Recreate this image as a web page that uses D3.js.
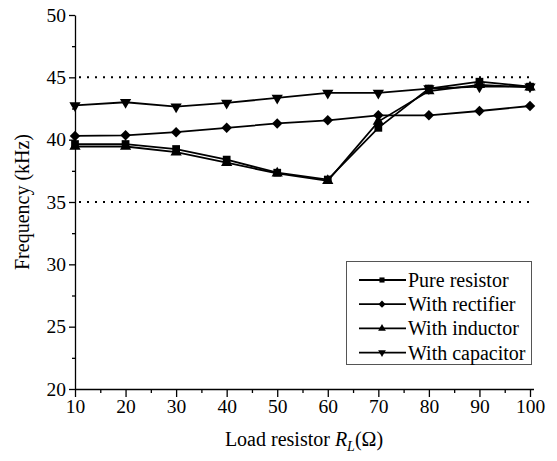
<!DOCTYPE html>
<html>
<head>
<meta charset="utf-8">
<script src="https://cdn.jsdelivr.net/npm/d3@7"></script>
<style>
  body { margin: 0; background: #fff; }
  text { font-family: "Liberation Serif", "Times New Roman", serif; }
</style>
</head>
<body>
<script>
// data
var loads = [10, 20, 30, 40, 50, 60, 70, 80, 90, 100];
var pureResistor = [39.65, 39.65, 39.25, 38.4, 37.35, 36.8, 40.95, 44.1, 44.65, 44.25];
var withRectifier = [40.3, 40.35, 40.6, 40.95, 41.3, 41.55, 41.95, 41.95, 42.3, 42.7];
var withInductor = [39.45, 39.45, 39.0, 38.15, 37.3, 36.7, 41.45, 43.9, 44.4, 44.2];
var withCapacitor = [42.75, 43.0, 42.65, 42.95, 43.35, 43.75, 43.75, 44.1, 44.25, 44.25];
var seriesNames = ["Pure resistor", "With rectifier", "With inductor", "With capacitor"];
var yTicks = [20, 25, 30, 35, 40, 45, 50];
var limitLines = [45, 35];

var width = 557, height = 461;
var svg = d3.select("body").append("svg")
    .attr("width", width)
    .attr("height", height);

// scales
var x = d3.scaleLinear().domain([10, 100]).range([75, 530]);
var y = d3.scaleLinear().domain([20, 50]).range([389, 15]);

var series = [
  {name: seriesNames[0], values: pureResistor, symbol: d3.symbolSquare, size: 60, rot: 0},
  {name: seriesNames[1], values: withRectifier, symbol: d3.symbolSquare, size: 55, rot: 45},
  {name: seriesNames[2], values: withInductor, symbol: d3.symbolTriangle, size: 55, rot: 0},
  {name: seriesNames[3], values: withCapacitor, symbol: d3.symbolTriangle, size: 55, rot: 180}
];

// dotted limit lines
svg.selectAll(".limit")
    .data(limitLines)
    .enter()
    .append("line")
    .attr("x1", x(10) + 4)
    .attr("x2", x(100))
    .attr("y1", function(d){ return y(d); })
    .attr("y2", function(d){ return y(d); })
    .style("stroke", "#000")
    .style("stroke-width", 2)
    .style("stroke-dasharray", "2,6");

// minor ticks
svg.append("g")
    .attr("transform", "translate(0," + y(20) + ")")
    .call(d3.axisBottom(x).tickValues(d3.range(15, 100, 10)).tickSize(4).tickFormat(""))
    .call(function(g){ g.select(".domain").remove(); })
    .selectAll("line").style("stroke-width", 1.3);

svg.append("g")
    .attr("transform", "translate(" + x(10) + ",0)")
    .call(d3.axisLeft(y).tickValues(d3.range(22.5, 50, 5)).tickSize(3).tickFormat(""))
    .call(function(g){ g.select(".domain").remove(); })
    .selectAll("line").style("stroke-width", 1.3);

// x axis
var xAxis = svg.append("g")
    .attr("transform", "translate(0," + y(20) + ")")
    .call(d3.axisBottom(x).tickValues(loads).tickSize(8).tickPadding(2).tickSizeOuter(0));
xAxis.selectAll("text").style("font-size", "19.5px").style("fill", "#000");
xAxis.select(".domain").attr("d", "M" + x(10) + ",0.5H" + (x(100) + 4)).style("stroke-width", 1.3);
xAxis.selectAll("line").style("stroke-width", 1.3);

// y axis
var yAxis = svg.append("g")
    .attr("transform", "translate(" + x(10) + ",0)")
    .call(d3.axisLeft(y).tickValues(yTicks).tickSize(6).tickPadding(3).tickSizeOuter(0));
yAxis.selectAll("text").style("font-size", "19.5px").style("fill", "#000");
yAxis.select(".domain").style("stroke-width", 1.3);
yAxis.selectAll("line").style("stroke-width", 1.3);

// lines and markers
var line = d3.line()
    .x(function(d, i){ return x(loads[i]); })
    .y(function(d){ return y(d); });

series.forEach(function(s) {
  svg.append("path")
      .datum(s.values)
      .attr("d", line)
      .style("fill", "none")
      .style("stroke", "#000")
      .style("stroke-width", 1.8);

  svg.selectAll(null)
      .data(s.values)
      .enter()
      .append("path")
      .attr("d", d3.symbol().type(s.symbol).size(s.size))
      .attr("transform", function(d, i){
        return "translate(" + x(loads[i]) + "," + y(d) + ") rotate(" + s.rot + ")";
      })
      .style("fill", "#000");
});

// axis titles
var xTitle = svg.append("text")
    .attr("x", 304)
    .attr("y", 446)
    .attr("text-anchor", "middle")
    .style("font-size", "20px");
xTitle.append("tspan").text("Load resistor ");
xTitle.append("tspan").style("font-style", "italic").text("R");
xTitle.append("tspan").style("font-style", "italic").style("font-size", "14px").attr("dy", 5).text("L");
xTitle.append("tspan").attr("dy", -5).text("(Ω)");

svg.append("text")
    .attr("transform", "translate(29," + y(35) + ") rotate(-90)")
    .attr("text-anchor", "middle")
    .style("font-size", "20px")
    .text("Frequency (kHz)");

// legend
var legend = svg.append("g");
legend.append("rect")
    .attr("x", 346.5)
    .attr("y", 261.5)
    .attr("width", 185)
    .attr("height", 103)
    .style("fill", "#fff")
    .style("stroke", "#555")
    .style("stroke-width", 1);

series.forEach(function(s, i) {
  var ly = 280 + i * 24.2;
  legend.append("line")
      .attr("x1", 359).attr("x2", 406)
      .attr("y1", ly).attr("y2", ly)
      .style("stroke", "#000")
      .style("stroke-width", 1.8);
  legend.append("path")
      .attr("d", d3.symbol().type(s.symbol).size(26))
      .attr("transform", "translate(382," + ly + ") rotate(" + s.rot + ")")
      .style("fill", "#000");
  legend.append("text")
      .attr("x", 408)
      .attr("y", ly + 7)
      .style("font-size", "20px")
      .text(s.name);
});
</script>
</body>
</html>
